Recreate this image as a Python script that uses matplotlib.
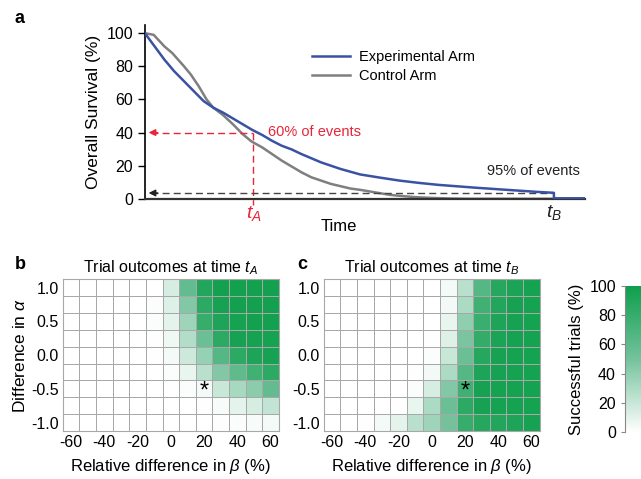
import numpy as np
import matplotlib
matplotlib.use("Agg")
import matplotlib.pyplot as plt
from matplotlib.colors import LinearSegmentedColormap

plt.rcParams["font.family"] = ["Liberation Sans", "DejaVu Sans"]
plt.rcParams["mathtext.fontset"] = "custom"
plt.rcParams["mathtext.it"] = "Liberation Sans:italic"
plt.rcParams["mathtext.rm"] = "Liberation Sans"
plt.rcParams["axes.unicode_minus"] = False

# ---- panel a: survival curves ----
t_exp = [0, 1, 2, 3, 4, 5, 6, 7, 8, 9, 10, 11, 12, 13, 14, 15, 16, 17, 18, 19,
         20, 22, 24, 26, 28, 30, 32, 34, 36, 38, 40, 41.8, 41.8, 45]
s_exp = [100, 92, 84, 77, 71, 65, 59, 55, 52, 48.5, 45, 41.5, 38.5, 35, 32, 29.8,
         27, 24.5, 22, 20, 18, 14.7, 12.8, 11, 9.6, 8.4, 7.5, 6.6, 5.8, 5, 4.2, 3.6, 0.3, 0.3]
t_ctl = [0, 0.9, 2, 2.8, 4, 4.7, 5.5, 6.3, 7, 8, 9, 10, 10.9, 12, 13, 14, 15, 16,
         17, 18, 19, 20, 21, 22, 23, 24, 25, 26, 27.6, 29, 31, 33, 45]
s_ctl = [100, 99, 92, 88, 80, 75, 68, 60, 55, 50.5, 45, 39, 34.6, 31, 27, 23, 19.5,
         16, 13, 11, 9, 7.6, 6.2, 5.4, 4.4, 3.4, 2.4, 1.8, 1.0, 0.6, 0.2, 0, 0]
t_a = 11.1
t_b = 41.8
surv_a = 40
surv_b = 3.5

# ---- panels b, c: heatmaps ----
beta = [-60, -50, -40, -30, -20, -10, 0, 10, 20, 30, 40, 50, 60]
alpha = [1.0, 0.75, 0.5, 0.25, 0.0, -0.25, -0.5, -0.75, -1.0]
success_a = [
    [0, 0, 0, 0, 0, 0, 15, 58, 90, 97, 97, 97, 97],
    [0, 0, 0, 0, 0, 2, 12, 45, 85, 95, 97, 97, 97],
    [0, 0, 0, 0, 0, 2, 10, 35, 80, 92, 96, 97, 97],
    [0, 0, 0, 0, 0, 1, 6, 28, 55, 85, 95, 96, 96],
    [0, 0, 0, 0, 0, 1, 4, 18, 38, 65, 85, 92, 95],
    [0, 0, 0, 0, 0, 0, 2, 8, 25, 45, 60, 75, 85],
    [0, 0, 0, 0, 0, 0, 0, 2, 4, 20, 32, 42, 58],
    [0, 0, 0, 0, 0, 0, 0, 0, 1, 3, 10, 15, 22],
    [0, 0, 0, 0, 0, 0, 0, 0, 0, 1, 2, 3, 4],
]
success_b = [
    [0, 0, 0, 0, 0, 0, 0, 4, 25, 65, 88, 93, 96],
    [0, 0, 0, 0, 0, 0, 0, 5, 30, 75, 90, 95, 96],
    [0, 0, 0, 0, 0, 0, 0, 8, 40, 78, 92, 95, 96],
    [0, 0, 0, 0, 0, 0, 1, 12, 48, 82, 93, 96, 96],
    [0, 0, 0, 0, 0, 0, 2, 20, 55, 88, 95, 96, 96],
    [0, 0, 0, 0, 0, 1, 5, 30, 65, 92, 95, 96, 96],
    [0, 0, 0, 0, 0, 2, 15, 45, 75, 95, 96, 96, 96],
    [0, 0, 0, 0, 1, 8, 30, 55, 85, 95, 96, 96, 96],
    [0, 0, 1, 4, 10, 25, 35, 50, 80, 88, 90, 92, 95],
]
star_beta = 20
star_alpha = -0.5

blue = "#3a52a3"
gray = "#7f7f7f"
red = "#e8253a"
cmap = LinearSegmentedColormap.from_list(
    "wg", [(0, "#ffffff"), (0.5, "#74c29c"), (1, "#0d9f4b")])

fig = plt.figure(figsize=(6.41, 4.79), dpi=100)

# panel a
ax = fig.add_axes([0.226, 0.585, 0.687, 0.363])
ax.plot(t_exp, s_exp, color=blue, lw=1.8, label="Experimental Arm", zorder=3)
ax.plot(t_ctl, s_ctl, color=gray, lw=1.8, label="Control Arm", zorder=2)
ax.plot([0.6, t_a], [surv_a, surv_a], color=red, lw=1, ls=(0, (5, 3)))
ax.plot([t_a, t_a], [surv_a, -4], color=red, lw=1, ls=(0, (5, 3)), clip_on=False)
ax.annotate("", xy=(0.1, surv_a), xytext=(1.6, surv_a),
            arrowprops=dict(arrowstyle="-|>", color=red, lw=1, mutation_scale=10))
ax.plot([0.6, t_b], [surv_b, surv_b], color="#444444", lw=1, ls=(0, (5, 3)))
ax.annotate("", xy=(0.1, surv_b), xytext=(1.6, surv_b),
            arrowprops=dict(arrowstyle="-|>", color="#222222", lw=1, mutation_scale=10))
ax.plot([t_b, t_b], [0, surv_b], color="black", lw=1.2)
ax.text(12.6, 40.5, "60% of events", color=red, fontsize=10.5, va="center")
ax.text(44.5, 17, "95% of events", color="#222222", fontsize=10.5, ha="right", va="center")
ax.text(t_a, -9, "$t_A$", color=red, fontsize=14, ha="center", va="center")
ax.text(t_b, -8, "$t_B$", color="#222222", fontsize=14, ha="center", va="center")
ax.text(19.8, -17, "Time", fontsize=12, ha="center", va="center")
ax.set_xlim(0, 45)
ax.set_ylim(0, 105)
ax.set_yticks([0, 20, 40, 60, 80, 100])
ax.set_xticks([])
ax.tick_params(axis="y", labelsize=11.5, length=5, width=1, direction="out")
ax.set_ylabel("Overall Survival (%)", fontsize=12.5, labelpad=4)
for s in ["top", "right"]:
    ax.spines[s].set_visible(False)
ax.spines["left"].set_linewidth(1.2)
ax.spines["bottom"].set_linewidth(1.6)
ax.spines["bottom"].set_color("#333333")
ax.legend(loc="upper left", bbox_to_anchor=(0.35, 0.93), frameon=False,
          fontsize=10.5, handlelength=2.6, handletextpad=0.6, labelspacing=0.35)

# panels b and c
def heat(rect, data, title, ylabel):
    axh = fig.add_axes(rect)
    b = np.array(beta)
    a = np.array(alpha)[::-1]
    bx = np.append(b - 5, b[-1] + 5)
    ay = np.append(a - 0.125, a[-1] + 0.125)
    axh.pcolormesh(bx, ay, np.array(data)[::-1], cmap=cmap, vmin=0, vmax=100,
                   edgecolors="#a8a8a8", linewidth=0.55)
    axh.text(star_beta, star_alpha - 0.04, "*", fontsize=17, ha="center", va="center")
    axh.set_xticks([-60, -40, -20, 0, 20, 40, 60])
    axh.set_yticks([1.0, 0.5, 0.0, -0.5, -1.0])
    axh.set_yticklabels(["1.0", "0.5", "0.0", "-0.5", "-1.0"])
    axh.tick_params(length=0, labelsize=11.5, pad=3)
    for s in axh.spines.values():
        s.set_color("#a8a8a8")
        s.set_linewidth(0.8)
    axh.set_title(title, fontsize=11.5, pad=5)
    axh.set_xlabel(r"Relative difference in $\beta$ (%)", fontsize=12, labelpad=5)
    if ylabel:
        axh.set_ylabel(r"Difference in $\alpha$", fontsize=12.5, labelpad=2)
    return axh

heat([0.098, 0.1, 0.337, 0.317], success_a, "Trial outcomes at time $t_A$", True)
heat([0.505, 0.1, 0.337, 0.317], success_b, "Trial outcomes at time $t_B$", False)

# colorbar
cax = fig.add_axes([0.975, 0.098, 0.04, 0.305])
grad = np.linspace(0, 100, 256).reshape(-1, 1)
cax.imshow(grad, cmap=cmap, aspect="auto", origin="lower", extent=[0, 1, 0, 100])
cax.set_xticks([])
cax.set_yticks([0, 20, 40, 60, 80, 100])
cax.tick_params(axis="y", labelsize=11.5, length=3, color="#888888")
cax.set_ylabel("Successful trials (%)", fontsize=12, labelpad=4)
for s in cax.spines.values():
    s.set_visible(False)
cax.spines["left"].set_visible(True)
cax.spines["left"].set_color("#888888")

fig.text(0.023, 0.962, "a", fontsize=13, fontweight="bold", va="center")
fig.text(0.023, 0.447, "b", fontsize=13, fontweight="bold", va="center")
fig.text(0.463, 0.447, "c", fontsize=13, fontweight="bold", va="center")

fig.savefig("out.png", dpi=100)
